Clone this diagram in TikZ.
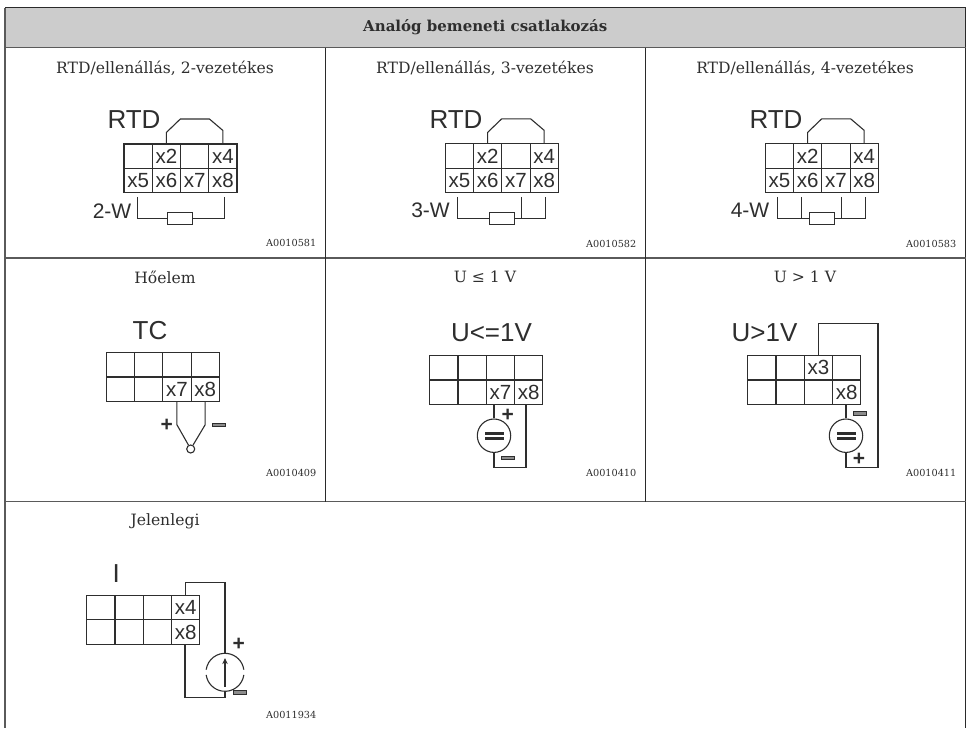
\documentclass[tikz,border=0pt]{standalone}
\usepackage{fontspec}
\setmainfont{DejaVu Serif}
\newfontfamily\wirefont{Liberation Sans}
\usetikzlibrary{arrows.meta}
\definecolor{rule}{HTML}{2A2A2A}
\definecolor{softrule}{HTML}{5A5A5A}
\definecolor{ink}{HTML}{2E2E2E}
\definecolor{headfill}{HTML}{CCCCCC}
\tikzset{x=1pt,y=-1pt,
  frame/.style={draw=rule,line width=1pt},
  softframe/.style={draw=softrule,line width=1.3pt},
  wire/.style={draw=ink,line width=1.1pt,line join=miter},
  cellbox/.style={draw=ink,line width=1.1pt,rectangle,minimum width=28.25pt,minimum height=24.2pt,inner sep=0pt,text=ink,font=\wirefont\fontsize{20.5}{20.5}\selectfont},
  caption/.style={text=ink,inner sep=0pt,font=\fontsize{15.6}{18}\selectfont},
  code/.style={text=ink,inner sep=0pt,anchor=east,font=\fontsize{9.7}{11}\selectfont},
  biglabel/.style={text=ink,inner sep=0pt,font=\wirefont\fontsize{26}{26}\selectfont},
  midlabel/.style={text=ink,inner sep=0pt,font=\wirefont\fontsize{21}{21}\selectfont},
  plussign/.style={text=ink,inner sep=0pt,font=\wirefont\bfseries\fontsize{21}{21}\selectfont},
  minussign/.style={draw=ink,fill=black!45,line width=0.7pt,rectangle,minimum width=12.5pt,minimum height=3.2pt,inner sep=0pt},
  resistor/.style={draw=ink,fill=white,line width=1.1pt,rectangle,minimum width=25pt,minimum height=12pt,inner sep=0pt},
  source/.style={draw=ink,fill=white,line width=1.1pt,circle,inner sep=0pt,minimum size=33.4pt},
  junction/.style={draw=ink,fill=white,line width=1.1pt,circle,inner sep=0pt,minimum size=8pt},
  dcbar/.style={draw=ink,fill=ink,minimum width=17.5pt,minimum height=1.8pt,inner sep=0pt,line width=0.3pt},
}
\newcommand{\termgrid}[9]{%
  \begin{scope}[shift={(#2,#3)}]
  \foreach \ci/\cx/\cy/\ct in {1/14.125/12.1/{#4},2/42.375/12.1/{#5},3/70.625/12.1/{#6},4/98.875/12.1/{#7},5/14.125/36.3/{#8}}{
    \node[cellbox] (#1\ci) at (\cx,\cy) {\ct};}
  \end{scope}}
\newcommand{\termrow}[6]{%
  \begin{scope}[shift={(#2,#3)}]
  \foreach \ci/\cx/\ct in {6/42.375/{#4},7/70.625/{#5},8/98.875/{#6}}{
    \node[cellbox] (#1\ci) at (\cx,36.3) {\ct};}
  \end{scope}}
\begin{document}
\begin{tikzpicture}
\useasboundingbox (0,0) rectangle (968,728);
% table frame
\fill[headfill] (5,7.5) rectangle (965.5,47.5);
\draw[softframe] (5,7.5) -- (5,728);
\draw[frame] (5,7.5) -- (965.5,7.5) -- (965.5,728);
\draw[softframe] (5,47.5) -- (965.5,47.5);
\draw[softframe] (5,258) -- (965.5,258);
\draw[softframe] (5,501.5) -- (965.5,501.5);
\draw[frame] (325,47.5) -- (325,501.5);
\draw[frame] (645,47.5) -- (645,501.5);
\node[text=ink,inner sep=0pt,font=\bfseries\fontsize{15}{18}\selectfont] (title) at (485.3,27.5) {Analóg bemeneti csatlakozás};
% captions
\node[caption] (c1) at (165,68) {RTD/ellenállás, 2-vezetékes};
\node[caption] (c2) at (485,68) {RTD/ellenállás, 3-vezetékes};
\node[caption] (c3) at (805,68) {RTD/ellenállás, 4-vezetékes};
\node[caption] (c4) at (165,277) {Hőelem};
\node[caption] (c5) at (485,277) {U ≤ 1 V};
\node[caption] (c6) at (805,277) {U > 1 V};
\node[caption] (c7) at (165,521) {Jelenlegi};
% codes
\node[code] (k1) at (316.5,243) {A0010581};
\node[code] (k2) at (636.5,244) {A0010582};
\node[code] (k3) at (956.5,244) {A0010583};
\node[code] (k4) at (316.5,472.5) {A0010409};
\node[code] (k5) at (636.5,472.5) {A0010410};
\node[code] (k6) at (956.5,472.5) {A0010411};
\node[code] (k7) at (316.5,715) {A0011934};
% === RTD 2-wire
\termgrid{a}{124}{144}{}{x2}{}{x4}{x5}{}{}{}{}
\termrow{a}{124}{144}{x6}{x7}{x8}
\node[biglabel] (al) at (134,120) {RTD};
\node[midlabel] (aw) at (112,211.5) {2-W};
\draw[wire] (a2.north) -- ++(0,-11) -- ++(14,-13.5) -- ++(29,0) -- ++(13.5,11.5) -- (a4.north);
\node[resistor] (ar) at (180.2,218.3) {};
\draw[wire] ([yshift=-4,xshift=-0.5]a5.south) |- (ar.west);
\draw[wire] ([yshift=-4,xshift=1.5]a8.south) |- (ar.east);
% === RTD 3-wire
\termgrid{b}{445.3}{143.9}{}{x2}{}{x4}{x5}{}{}{}{}
\termrow{b}{445.3}{143.9}{x6}{x7}{x8}
\node[biglabel] (bl) at (456,120) {RTD};
\node[midlabel] (bw) at (430.5,210.7) {3-W};
\draw[wire] (b2.north) -- ++(0,-11) -- ++(14,-13.5) -- ++(29,0) -- ++(13.5,11.5) -- (b4.north);
\node[resistor] (br) at (501.8,218.5) {};
\draw[wire] ([yshift=-4,xshift=-2]b5.south) |- (br.west);
\draw[wire] ([yshift=-4,xshift=1.5]b8.south) |- (br.east);
\draw[wire] ([yshift=-4,xshift=6]b7.south) -- ([xshift=6]b7.south |- br.east);
% === RTD 4-wire
\termgrid{c}{765.3}{143.9}{}{x2}{}{x4}{x5}{}{}{}{}
\termrow{c}{765.3}{143.9}{x6}{x7}{x8}
\node[biglabel] (cl) at (776,120) {RTD};
\node[midlabel] (cw) at (750,210.7) {4-W};
\draw[wire] (c2.north) -- ++(0,-11) -- ++(14,-13.5) -- ++(29,0) -- ++(13.5,11.5) -- (c4.north);
\node[resistor] (cr) at (821.8,218.5) {};
\draw[wire] ([yshift=-4,xshift=-2]c5.south) |- (cr.west);
\draw[wire] ([yshift=-4,xshift=1.5]c8.south) |- (cr.east);
\draw[wire] ([yshift=-4,xshift=6]c7.south) -- ([xshift=6]c7.south |- cr.east);
\draw[wire] ([yshift=-4,xshift=-6]c6.south) -- ([xshift=-6]c6.south |- cr.west);
% === TC
\termgrid{d}{106.3}{352.8}{}{}{}{}{}{}{}{}{}
\termrow{d}{106.3}{352.8}{}{x7}{x8}
\node[biglabel] (dl) at (150,331) {TC};
\node[junction] (dj) at (190.7,449) {};
\draw[wire] (d7.south) -- ++(0,23) -- (dj);
\draw[wire] (d8.south) -- ++(0,23) -- (dj);
\node[plussign] (dp) at (166.7,425.7) {+};
\node[minussign] (dm) at (219,425) {};
% === U<=1V
\termgrid{e}{429.7}{355.8}{}{}{}{}{}{}{}{}{}
\termrow{e}{429.7}{355.8}{}{x7}{x8}
\node[biglabel] (el) at (491.5,332.5) {U<=1V};
\node[source] (es) at (494,435.7) {};
\node[dcbar] (eb1) at (494,433.5) {};
\node[dcbar] (eb2) at (494,437.8) {};
\draw[wire] (es.north) -- (es.north |- e7.south);
\coordinate (ec) at (526,467.7);
\draw[wire] (es.south) |- (ec) -- (ec |- e8.south);
\node[plussign] (ep) at (507.7,415.3) {+};
\node[minussign] (em) at (508,458) {};
% === U>1V
\termgrid{f}{747.7}{355.8}{}{}{x3}{}{}{}{}{}{}
\termrow{f}{747.7}{355.8}{}{}{x8}
\node[biglabel] (fl) at (764.5,332.5) {U>1V};
\node[source] (fs) at (846,435.7) {};
\node[dcbar] (fb1) at (846,433.5) {};
\node[dcbar] (fb2) at (846,437.8) {};
\draw[wire] (fs.north) -- (fs.north |- f8.south);
\coordinate (ft) at (878,323.3);
\coordinate (fb) at (878,467.7);
\draw[wire] (f3.north) |- (ft) -- (fb) -| (fs.south);
\node[minussign] (fm) at (860,413.3) {};
\node[plussign] (fp) at (859,459) {+};
% === Current
\termgrid{g}{86.7}{595.7}{}{}{}{x4}{}{}{}{}{}
\termrow{g}{86.7}{595.7}{}{}{x8}
\node[biglabel] (gl) at (116.3,573.3) {I};
\node[circle,minimum size=38pt,inner sep=0pt] (gs) at (225,672.3) {};
\draw[wire] (gs.center) ++(8:19) arc (8:172:19);
\draw[wire] (gs.center) ++(188:19) arc (188:352:19);
\draw[wire,-{Stealth[length=6pt,width=5.5pt]}] ([yshift=5]gs.south) -- ([yshift=-5]gs.north);
\coordinate (gt) at (225,582.7);
\coordinate (gb) at (185,697.3);
\draw[wire] (g4.north) |- (gt) -- (gs.north);
\draw[wire] (gs.south) |- (gb) -- (gb |- g8.south);
\node[plussign] (gp) at (238.7,644) {+};
\node[minussign] (gm) at (240,692.3) {};
\end{tikzpicture}
\end{document}
